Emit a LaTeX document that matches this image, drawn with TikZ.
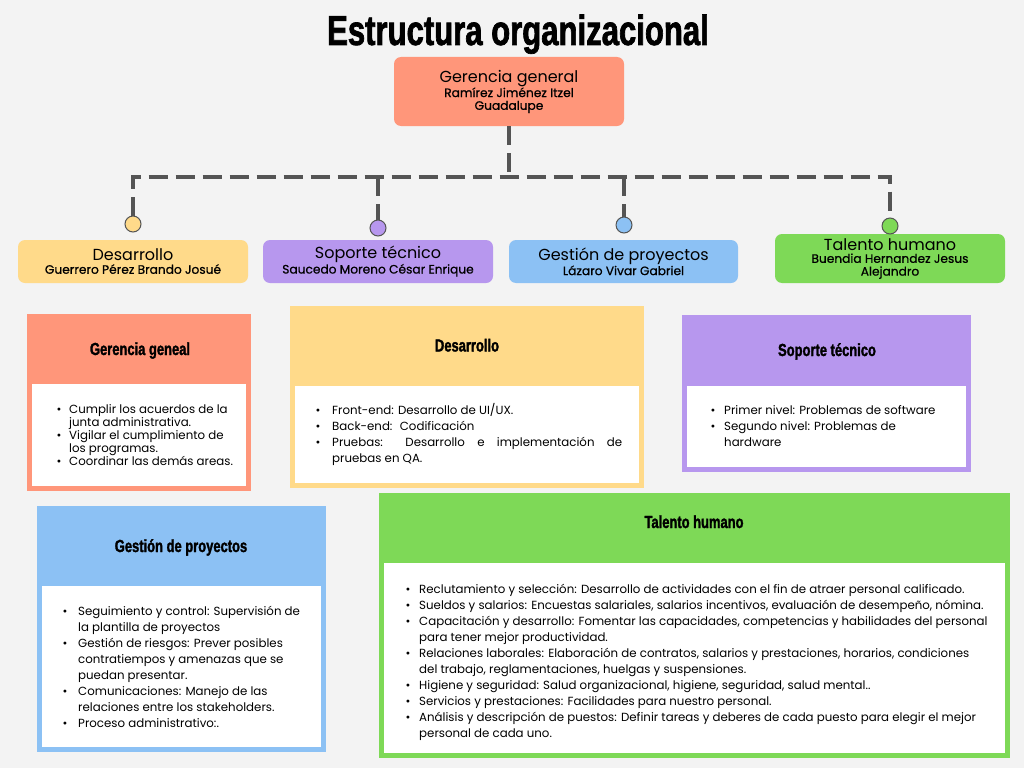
\documentclass[tikz,border=0pt]{standalone}
\usepackage{fontspec}
\setmainfont{Poppins}
\newfontfamily\anton[FakeStretch=0.74, BoldFeatures={FakeBold=1.6}]{Liberation Sans}
\newfontfamily\pmed[FakeBold=0.7]{Poppins}
\definecolor{bgc}{HTML}{F3F3F3}
\definecolor{salmon}{HTML}{FF967A}
\definecolor{yel}{HTML}{FFDA8A}
\definecolor{lav}{HTML}{B797EE}
\definecolor{blu}{HTML}{8CC1F4}
\definecolor{grn}{HTML}{7ED957}
\definecolor{linec}{HTML}{545454}
\tikzset{
  rbox/.style={rounded corners=7pt, inner sep=0pt, align=center, minimum width=230pt,
    font=\pmed\fontsize{12.2}{12.8}\selectfont},
  conn/.style={draw=linec, line width=4pt, dash pattern=on 19pt off 8pt},
  dotc/.style={circle, draw=linec, line width=1pt, minimum size=16pt, inner sep=0pt},
  panel/.style={anchor=north west, inner sep=0pt, draw=none},
  head/.style={anchor=base, inner sep=0pt, font=\anton\bfseries\fontsize{17.5}{18}\selectfont},
  txt/.style={anchor=base west, inner sep=0pt, font=\fontsize{11.8}{16}\selectfont},
}
\newcommand\bigt[1]{{\normalfont\fontsize{16}{16}\selectfont #1}}
\begin{document}
\begin{tikzpicture}[x=1pt,y=-1pt]
\fill[bgc] (0,0) rectangle (1024,768);
\useasboundingbox (0,0) rectangle (1024,768);

\node[anchor=base, inner sep=0pt, font=\anton\bfseries\fontsize{42}{42}\selectfont] (title) at (518,45) {Estructura organizacional};

% top box
\node[rbox, fill=salmon, minimum height=69pt] (gg) at (509,91.5)
  {\bigt{Gerencia general}\\Ramírez Jiménez Itzel\\Guadalupe};

% level-2 boxes
\node[rbox, fill=yel, minimum height=43pt] (bd) at (133,261.5)
  {\bigt{Desarrollo}\\Guerrero Pérez Brando Josué};
\node[rbox, fill=lav, minimum height=43pt] (bs) at (378,261.5)
  {\bigt{Soporte técnico}\\Saucedo Moreno César Enrique};
\node[rbox, fill=blu, minimum height=43pt, minimum width=229pt] (bg) at (623.5,261.5)
  {\bigt{Gestión de proyectos}\\Lázaro Vivar Gabriel};
\node[rbox, fill=grn, minimum height=49pt] (bt) at (890,258.5)
  {\bigt{Talento humano}\\Buendia Hernandez Jesus\\Alejandro};

% circles
\node[dotc, fill=yel] (c1) at (133,224) {};
\node[dotc, fill=lav] (c2) at (378,228) {};
\node[dotc, fill=blu] (c3) at (624,225) {};
\node[dotc, fill=grn] (c4) at (890,226) {};

% connectors
\coordinate (hl) at (509,177);
\draw[conn] (gg.south) -- (hl);
\draw[conn] (c1.north) -- (c1 |- hl) -- (c4 |- hl) -- (c4.north);
\draw[conn] (c2 |- hl) -- (c2.north);
\draw[conn] (c3 |- hl) -- (c3.north);

% panel 1: Gerencia
\node[panel, fill=salmon, minimum width=224pt, minimum height=177pt] (p1) at (27,314) {};
\node[panel, fill=white, minimum width=214pt, minimum height=102pt] (w1) at (32,384) {};
\node[head] (h1) at (140,355) {Gerencia geneal};
\node[txt, font=\fontsize{11.8}{13}\selectfont] (t1) at (56.5,413) {\begin{tabular}[t]{@{}p{12.5pt}@{}l@{}}
• & Cumplir los acuerdos de la\\
  & junta administrativa.\\
• & Vigilar el cumplimiento de\\
  & los programas.\\
• & Coordinar las demás areas.
\end{tabular}};

% panel 2: Desarrollo
\node[panel, fill=yel, minimum width=354pt, minimum height=182pt] (p2) at (290,306) {};
\node[panel, fill=white, minimum width=344pt, minimum height=97pt] (w2) at (295,386) {};
\node[head] (h2) at (467,351.5) {Desarrollo};
\node[txt] (t2) at (315.5,414) {\begin{tabular}[t]{@{}p{16.5pt}@{}l@{}}
• & Front-end: Desarrollo de UI/UX.\\
• & Back-end: \ Codificación\\
• & \makebox[290pt][s]{Pruebas: Desarrollo e implementación de}\\
  & pruebas en QA.
\end{tabular}};

% panel 3: Soporte
\node[panel, fill=lav, minimum width=289pt, minimum height=157pt] (p3) at (682,315) {};
\node[panel, fill=white, minimum width=279pt, minimum height=81pt] (w3) at (687,386) {};
\node[head] (h3) at (827,356) {Soporte técnico};
\node[txt] (t3) at (710.5,414) {\begin{tabular}[t]{@{}p{13.5pt}@{}l@{}}
• & Primer nivel: Problemas de software\\
• & Segundo nivel: Problemas de\\
  & hardware
\end{tabular}};

% panel 4: Gestion
\node[panel, fill=blu, minimum width=289pt, minimum height=246pt] (p4) at (37,506) {};
\node[panel, fill=white, minimum width=279pt, minimum height=161pt] (w4) at (42,586) {};
\node[head] (h4) at (181,552) {Gestión de proyectos};
\node[txt] (t4) at (62.5,615) {\begin{tabular}[t]{@{}p{15.5pt}@{}l@{}}
• & Seguimiento y control: Supervisión de\\
  & la plantilla de proyectos\\
• & Gestión de riesgos: Prever posibles\\
  & contratiempos y amenazas que se\\
  & puedan presentar.\\
• & Comunicaciones: Manejo de las\\
  & relaciones entre los stakeholders.\\
• & Proceso administrativo:.
\end{tabular}};

% panel 5: Talento
\node[panel, fill=grn, minimum width=631pt, minimum height=265pt] (p5) at (379,493) {};
\node[panel, fill=white, minimum width=621pt, minimum height=190pt] (w5) at (384,563) {};
\node[head] (h5) at (694,528) {Talento humano};
\node[txt] (t5) at (405.5,593) {\begin{tabular}[t]{@{}p{13.5pt}@{}l@{}}
• & Reclutamiento y selección: Desarrollo de actividades con el fin de atraer personal calificado.\\
• & Sueldos y salarios: Encuestas salariales, salarios incentivos, evaluación de desempeño, nómina.\\
• & Capacitación y desarrollo: Fomentar las capacidades, competencias y habilidades del personal\\
  & para tener mejor productividad.\\
• & Relaciones laborales: Elaboración de contratos, salarios y prestaciones, horarios, condiciones\\
  & del trabajo, reglamentaciones, huelgas y suspensiones.\\
• & Higiene y seguridad: Salud organizacional, higiene, seguridad, salud mental..\\
• & Servicios y prestaciones: Facilidades para nuestro personal.\\
• & Análisis y descripción de puestos: Definir tareas y deberes de cada puesto para elegir el mejor\\
  & personal de cada uno.
\end{tabular}};
\end{tikzpicture}
\end{document}
